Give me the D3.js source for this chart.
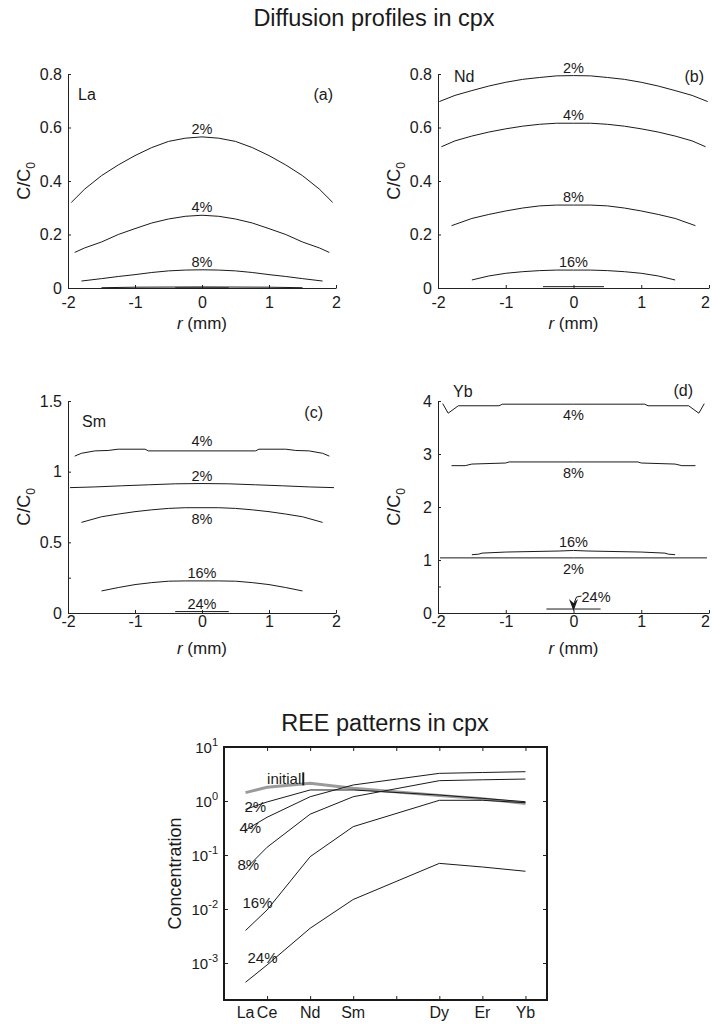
<!DOCTYPE html>
<html>
<head>
<meta charset="utf-8">
<script src="https://cdn.jsdelivr.net/npm/d3@7"></script>
<style>
  body { margin: 0; background: #fff; }
  svg text { font-family: "Liberation Sans", Arial, Helvetica, sans-serif; fill: #1a1a1a; }
</style>
</head>
<body>
<div id="chart"></div>
<script>
// ---- DATA: diffusion profiles, r (mm) vs C/C0 ----
const rTicks = [-2, -1, 0, 1, 2];

const laSeries = [
  { name: "2%", r: [-1.95, -1.75, -1.5, -1.25, -1, -0.75, -0.5, -0.25, 0, 0.25, 0.5, 0.75, 1, 1.25, 1.5, 1.75, 1.95],
    c: [0.32, 0.37, 0.42, 0.46, 0.495, 0.525, 0.548, 0.56, 0.565, 0.56, 0.548, 0.525, 0.495, 0.46, 0.42, 0.37, 0.32] },
  { name: "4%", r: [-1.9, -1.75, -1.5, -1.25, -1, -0.75, -0.5, -0.25, 0, 0.25, 0.5, 0.75, 1, 1.25, 1.5, 1.75, 1.9],
    c: [0.133, 0.15, 0.172, 0.2, 0.222, 0.243, 0.258, 0.268, 0.272, 0.268, 0.258, 0.243, 0.222, 0.2, 0.172, 0.15, 0.133] },
  { name: "8%", r: [-1.8, -1.5, -1.25, -1, -0.75, -0.5, -0.25, 0, 0.25, 0.5, 0.75, 1, 1.25, 1.5, 1.8],
    c: [0.026, 0.035, 0.043, 0.05, 0.058, 0.064, 0.067, 0.068, 0.067, 0.064, 0.058, 0.05, 0.043, 0.035, 0.026] },
  { name: "16%", r: [-1.5, -1, 0, 1, 1.5], c: [0.001, 0.003, 0.004, 0.003, 0.001] },
  { name: "24%", r: [-0.4, 0.4], c: [0.0005, 0.0005] }
];

const ndSeries = [
  { name: "2%", r: [-1.98, -1.75, -1.5, -1.25, -1, -0.75, -0.5, -0.25, 0, 0.25, 0.5, 0.75, 1, 1.25, 1.5, 1.75, 1.98],
    c: [0.697, 0.72, 0.738, 0.755, 0.769, 0.78, 0.787, 0.793, 0.794, 0.793, 0.787, 0.78, 0.769, 0.755, 0.738, 0.72, 0.697] },
  { name: "4%", r: [-1.95, -1.75, -1.5, -1.25, -1, -0.75, -0.5, -0.25, 0, 0.25, 0.5, 0.75, 1, 1.25, 1.5, 1.75, 1.95],
    c: [0.528, 0.55, 0.568, 0.583, 0.595, 0.605, 0.612, 0.616, 0.616, 0.616, 0.612, 0.605, 0.595, 0.583, 0.568, 0.55, 0.528] },
  { name: "8%", r: [-1.8, -1.5, -1.25, -1, -0.75, -0.5, -0.25, 0, 0.25, 0.5, 0.75, 1, 1.25, 1.5, 1.8],
    c: [0.233, 0.26, 0.275, 0.288, 0.299, 0.307, 0.31, 0.31, 0.31, 0.307, 0.299, 0.288, 0.275, 0.26, 0.233] },
  { name: "16%", r: [-1.5, -1.25, -1, -0.75, -0.5, -0.25, 0, 0.25, 0.5, 0.75, 1, 1.25, 1.5],
    c: [0.03, 0.045, 0.055, 0.061, 0.065, 0.067, 0.067, 0.067, 0.065, 0.061, 0.055, 0.045, 0.03] },
  { name: "24%", r: [-0.45, 0.45], c: [0.005, 0.005] }
];

const smSeries = [
  { name: "4%", r: [-1.9, -1.8, -1.6, -1.4, -1.25, -0.85, -0.8, 0, 0.8, 0.85, 1.25, 1.4, 1.6, 1.8, 1.9],
    c: [1.11, 1.13, 1.147, 1.15, 1.159, 1.159, 1.147, 1.147, 1.147, 1.159, 1.159, 1.15, 1.147, 1.13, 1.11] },
  { name: "2%", r: [-1.97, -1.6, -1.2, -0.8, -0.4, 0, 0.4, 0.8, 1.2, 1.6, 1.97],
    c: [0.887, 0.892, 0.9, 0.907, 0.914, 0.916, 0.914, 0.907, 0.9, 0.892, 0.887] },
  { name: "8%", r: [-1.8, -1.5, -1.25, -1, -0.75, -0.5, -0.25, 0, 0.25, 0.5, 0.75, 1, 1.25, 1.5, 1.8],
    c: [0.641, 0.681, 0.7, 0.717, 0.73, 0.74, 0.745, 0.745, 0.745, 0.74, 0.73, 0.717, 0.7, 0.681, 0.641] },
  { name: "16%", r: [-1.5, -1.25, -1, -0.75, -0.5, -0.25, 0, 0.25, 0.5, 0.75, 1, 1.25, 1.5],
    c: [0.156, 0.18, 0.201, 0.215, 0.225, 0.227, 0.227, 0.227, 0.225, 0.215, 0.201, 0.18, 0.156] },
  { name: "24%", r: [-0.4, 0.4], c: [0.01, 0.01] }
];

const ybSeries = [
  { name: "4%", r: [-1.93, -1.85, -1.7, -1.1, -1.05, 0, 1.05, 1.1, 1.7, 1.85, 1.93],
    c: [3.95, 3.77, 3.91, 3.91, 3.94, 3.94, 3.94, 3.91, 3.91, 3.77, 3.95] },
  { name: "8%", r: [-1.8, -1.6, -1.5, -1.0, -0.95, 0, 0.95, 1, 1.5, 1.6, 1.8],
    c: [2.78, 2.78, 2.81, 2.83, 2.85, 2.85, 2.85, 2.83, 2.81, 2.78, 2.78] },
  { name: "16%", r: [-1.5, -1.4, -1.35, -1, -0.2, 0, 0.2, 1, 1.35, 1.4, 1.5],
    c: [1.1, 1.11, 1.13, 1.15, 1.17, 1.18, 1.17, 1.15, 1.13, 1.11, 1.1] },
  { name: "2%", r: [-1.97, 0, 1.97], c: [1.04, 1.04, 1.04] },
  { name: "24%", r: [-0.4, 0, 0.4], c: [0.075, 0.075, 0.075] }
];

// ---- DATA: REE patterns ----
const reeNames  = ["La", "Ce", "Nd", "Sm", "Dy", "Er", "Yb"];
const reeZ      = [57, 58, 60, 62, 66, 68, 70];
const reeTicks  = [58, 60, 62, 64, 66, 68, 70];
const reeInitial = [1.43, 1.79, 2.12, 1.72, 1.26, 1.10, 0.90];
const ree2  = [0.70, 0.96, 1.60, 1.60, 1.29, 1.12, 0.97];
const ree4  = [0.29, 0.50, 1.20, 1.98, 3.25, 3.37, 3.49];
const ree8  = [0.055, 0.139, 0.57, 1.20, 2.38, 2.47, 2.55];
const ree16 = [0.004, 0.0096, 0.093, 0.335, 1.03, 1.03, 0.93];
const ree24 = [0.00044, 0.00092, 0.0044, 0.015, 0.070, 0.060, 0.050];
const reeLogTicks = [-3, -2, -1, 0, 1];

// ---- LAYOUT ----
const W = 712, H = 1024;
const svg = d3.select("#chart").append("svg").attr("width", W).attr("height", H);

svg.append("text").attr("x", 374).attr("y", 26).attr("text-anchor", "middle")
  .style("font-size", "23.5px").text("Diffusion profiles in cpx");

const panels = [
  { el: "La", tag: "(a)", series: laSeries, yMax: 0.8, yTicks: [0, 0.2, 0.4, 0.6, 0.8], minor: [],
    left: 68, right: 336, top: 74, bottom: 288, tickGap: 9,
    elPos: [10, 26], tagPos: [-3, 26], labels: ["2%", "4%", "8%"], below: [] },
  { el: "Nd", tag: "(b)", series: ndSeries, yMax: 0.8, yTicks: [0, 0.2, 0.4, 0.6, 0.8], minor: [],
    left: 438, right: 709, top: 74, bottom: 288, tickGap: 9,
    elPos: [16, 8], tagPos: [-5, 8], labels: ["2%", "4%", "8%", "16%"], below: [] },
  { el: "Sm", tag: "(c)", series: smSeries, yMax: 1.5, yTicks: [0, 0.5, 1, 1.5], minor: [0.25],
    left: 68, right: 336, top: 401, bottom: 613, tickGap: 3,
    elPos: [14, 26], tagPos: [-13, 17], labels: ["4%", "2%", "8%", "16%", "24%"], below: ["8%"] },
  { el: "Yb", tag: "(d)", series: ybSeries, yMax: 4, yTicks: [0, 1, 2, 3, 4], minor: [0.5],
    left: 438, right: 709, top: 401, bottom: 613, tickGap: 3,
    elPos: [15, -4], tagPos: [-16, -5], labels: ["4%", "8%", "16%", "2%"], below: ["4%", "8%", "2%"] }
];

panels.forEach(p => {
  const x = d3.scaleLinear().domain([-2, 2]).range([p.left, p.right]);
  const y = d3.scaleLinear().domain([0, p.yMax]).range([p.bottom, p.top]);
  const g = svg.append("g");

  // axes (ticks point inward)
  const xAxis = g.append("g").attr("transform", `translate(0,${p.bottom})`)
    .call(d3.axisBottom(x).tickValues(rTicks).tickSize(-3).tickSizeOuter(0)
      .tickPadding(p.tickGap).tickFormat(d => String(d)));
  const yAxis = g.append("g").attr("transform", `translate(${p.left},0)`)
    .call(d3.axisLeft(y).tickValues(p.yTicks.concat(p.minor)).tickSize(-3).tickSizeOuter(0)
      .tickPadding(6).tickFormat(d => p.minor.includes(d) ? "" : String(d)));
  [xAxis, yAxis].forEach(a => {
    a.select(".domain").attr("stroke", "#222").attr("stroke-width", 1);
    a.selectAll(".tick line").attr("stroke", "#222");
    a.selectAll(".tick text").style("font-size", "16px").attr("fill", "#1a1a1a")
      .style("font-family", "'Liberation Sans', Arial, sans-serif");
  });
  // keep the last r label inside the page on the right-hand panels
  if (p.right > W - 10) {
    xAxis.selectAll(".tick text").filter(d => d === 2).attr("dx", -4);
  }

  // axis labels
  const xl = g.append("text").attr("x", x(0)).attr("y", p.bottom + 41)
    .attr("text-anchor", "middle").style("font-size", "17px");
  xl.append("tspan").style("font-style", "italic").text("r");
  xl.append("tspan").text(" (mm)");

  const yl = g.append("text")
    .attr("transform", `translate(${p.left - 38},${(p.top + p.bottom) / 2}) rotate(-90)`)
    .attr("text-anchor", "middle").style("font-size", "18px");
  yl.append("tspan").text("C/C");
  yl.append("tspan").attr("dy", 5).style("font-size", "12px").text("0");

  // element + tag
  g.append("text").attr("x", p.left + p.elPos[0]).attr("y", p.top + p.elPos[1])
    .style("font-size", "16px").text(p.el);
  g.append("text").attr("x", p.right + p.tagPos[0]).attr("y", p.top + p.tagPos[1])
    .attr("text-anchor", "end").style("font-size", "16px").text(p.tag);

  // profile lines
  const line = d3.line().x(d => x(d[0])).y(d => y(d[1]));
  g.selectAll(".profile").data(p.series).enter().append("path")
    .attr("class", "profile")
    .attr("d", s => line(d3.zip(s.r, s.c)))
    .attr("fill", "none").attr("stroke", "#1a1a1a").attr("stroke-width", 1);

  // percent labels at r = 0
  p.series.filter(s => p.labels.includes(s.name)).forEach(s => {
    const c0 = d3.max(s.c);
    const below = p.below.includes(s.name);
    g.append("text").attr("x", x(0)).attr("y", below ? y(c0) + 16 : y(c0) - 3)
      .attr("text-anchor", "middle").style("font-size", "14.5px").text(s.name);
  });

  // arrow for 24% in Yb panel
  if (p.el === "Yb") {
    const s = p.series.find(d => d.name === "24%");
    const tx = x(0), ty = y(s.c[1]) + 2;
    g.append("path").attr("d", `M${tx - 4.5},${ty - 12} L${tx},${ty - 8} L${tx + 4.5},${ty - 12} L${tx},${ty} Z`)
      .attr("fill", "#1a1a1a");
    g.append("path").attr("d", `M${tx + 1},${ty - 9} L${tx + 3},${ty - 14} L${tx + 8},${ty - 15}`)
      .attr("fill", "none").attr("stroke", "#1a1a1a").attr("stroke-width", 1);
    g.append("text").attr("x", tx + 8).attr("y", ty - 9).style("font-size", "14.5px").text("24%");
  }
});

// ---- REE patterns chart ----
svg.append("text").attr("x", 385).attr("y", 731).attr("text-anchor", "middle")
  .style("font-size", "23.5px").text("REE patterns in cpx");

const bx = d3.scaleLinear().domain([56, 71]).range([224, 547]);
const by = d3.scaleLog().domain([Math.pow(10, -3.685), 10]).range([1000, 747]);
const bg = svg.append("g");
const decades = reeLogTicks.map(e => Math.pow(10, e));

const axes = [
  bg.append("g").attr("transform", "translate(0,1000)")
    .call(d3.axisBottom(bx).tickValues(reeTicks).tickSize(-4).tickSizeOuter(0).tickFormat("")),
  bg.append("g").attr("transform", "translate(0,747)")
    .call(d3.axisTop(bx).tickValues(reeTicks).tickSize(-4).tickSizeOuter(0).tickFormat("")),
  bg.append("g").attr("transform", "translate(224,0)")
    .call(d3.axisLeft(by).tickValues(decades).tickSize(-4).tickSizeOuter(0).tickFormat("")),
  bg.append("g").attr("transform", "translate(547,0)")
    .call(d3.axisRight(by).tickValues(decades).tickSize(-4).tickSizeOuter(0).tickFormat(""))
];
axes.forEach(a => {
  a.select(".domain").remove();
  a.selectAll(".tick line").attr("stroke", "#222");
});
bg.append("rect").attr("x", bx(56)).attr("y", by(10))
  .attr("width", bx(71) - bx(56)).attr("height", by(Math.pow(10, -3.685)) - by(10))
  .attr("fill", "none").attr("stroke", "#1a1a1a").attr("stroke-width", 2);

// y tick labels 10^n
reeLogTicks.forEach(e => {
  const t = bg.append("text").attr("x", 218).attr("y", by(Math.pow(10, e)) + 6)
    .attr("text-anchor", "end").style("font-size", "15px");
  t.append("tspan").text("10");
  t.append("tspan").attr("dy", -7).style("font-size", "11px").text(String(e));
});
// x tick labels
reeNames.forEach((n, i) => {
  bg.append("text").attr("x", bx(reeZ[i])).attr("y", 1018)
    .attr("text-anchor", "middle").style("font-size", "16px").text(n);
});
bg.append("text")
  .attr("transform", `translate(181,${(747 + 1000) / 2}) rotate(-90)`)
  .attr("text-anchor", "middle").style("font-size", "18px").text("Concentration");

const reeLine = d3.line().x(d => bx(d[0])).y(d => by(d[1]));
const reeSeries = [
  { name: "2%", v: ree2, dx: -1, dy: 3 },
  { name: "4%", v: ree4, dx: -6, dy: 3 },
  { name: "8%", v: ree8, dx: -8, dy: 1 },
  { name: "16%", v: ree16, dx: -3, dy: -22 },
  { name: "24%", v: ree24, dx: 2, dy: -19 }
];
bg.append("path").attr("d", reeLine(d3.zip(reeZ, reeInitial)))
  .attr("fill", "none").attr("stroke", "#9a9a9a").attr("stroke-width", 3);
reeSeries.forEach(s => {
  bg.append("path").attr("d", reeLine(d3.zip(reeZ, s.v)))
    .attr("fill", "none").attr("stroke", "#1a1a1a").attr("stroke-width", 1);
  bg.append("text").attr("x", bx(reeZ[0]) + s.dx).attr("y", by(s.v[0]) + s.dy)
    .style("font-size", "15px").text(s.name);
});
const initLabel = bg.append("text").attr("x", bx(reeZ[1])).attr("y", by(reeInitial[1]) - 3)
  .style("font-size", "15px").text("initial");
const iw = initLabel.node().getComputedTextLength();
bg.append("line")
  .attr("x1", bx(reeZ[1]) + iw + 2).attr("x2", bx(reeZ[1]) + iw + 2)
  .attr("y1", by(reeInitial[1]) - 15).attr("y2", by(reeInitial[1]) - 2)
  .attr("stroke", "#1a1a1a").attr("stroke-width", 2);
</script>
</body>
</html>
